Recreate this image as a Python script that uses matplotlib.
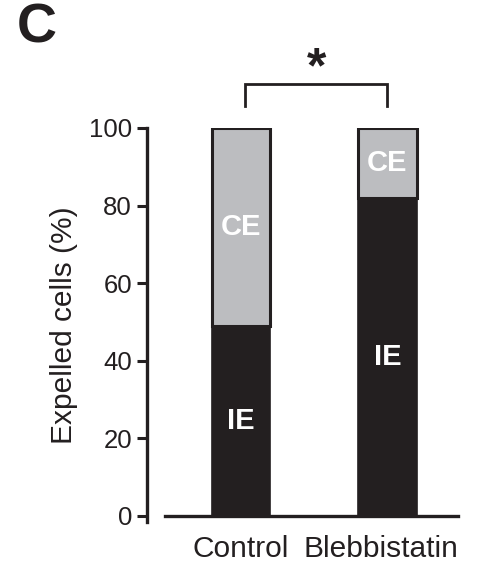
import matplotlib
matplotlib.use("Agg")
import matplotlib.pyplot as plt

plt.rcParams['font.family'] = ['Liberation Sans', 'DejaVu Sans']

# Data: percentage of expelled cells by expulsion type
categories = ["Control", "Blebbistatin"]
ie_values = [49, 82]          # IE share (%)
ce_values = [51, 18]          # CE share (%)
yticks = [0, 20, 40, 60, 80, 100]

dark = "#231f20"
grey = "#bcbdc0"

fig = plt.figure(figsize=(4.8, 5.67), dpi=100)
ax = fig.add_axes([0.3067, 0.079, 0.647, 0.6953])

x = list(range(len(categories)))
width = 0.4
ax.bar(x, ie_values, width=width, color=dark, edgecolor=dark, linewidth=1.2, zorder=2)
ax.bar(x, ce_values, width=width, bottom=ie_values, color=grey, edgecolor=dark,
       linewidth=2.2, zorder=2)

for xi, ie, ce in zip(x, ie_values, ce_values):
    ax.text(xi, ie / 2, "IE", color="white", fontsize=21, fontweight="bold",
            ha="center", va="center", zorder=3)
    ax.text(xi, ie + ce / 2, "CE", color="white", fontsize=21, fontweight="bold",
            ha="center", va="center", zorder=3)

ax.set_xlim(-0.64, 1.48)
ax.set_ylim(-1.6, 100)
ax.set_yticks(yticks)
ax.tick_params(axis="y", labelsize=18.5, length=7, width=2.2, direction="out",
               pad=4, color=dark, labelcolor=dark)
ax.set_xticks([])

# Category labels under the bars (the long one sits slightly left of its bar)
label_shift = [0, -4.5]   # points
for xi, name, dx in zip(x, categories, label_shift):
    ax.annotate(name, xy=(xi, 0), xycoords=("data", "axes fraction"),
                xytext=(dx, -9.5), textcoords="offset points",
                ha="center", va="top", fontsize=21.5, color=dark,
                annotation_clip=False)

for s in ["top", "right"]:
    ax.spines[s].set_visible(False)
ax.spines["left"].set_linewidth(2.4)
ax.spines["left"].set_color(dark)
ax.spines["left"].set_bounds(-1.6, 100)
ax.spines["bottom"].set_linewidth(2.4)
ax.spines["bottom"].set_color(dark)
ax.spines["bottom"].set_position(("data", 0))
ax.spines["bottom"].set_bounds(-0.52, 1.48)

ax.set_ylabel("Expelled cells (%)", fontsize=21.5, color=dark, labelpad=8)

# Significance bracket
bx0, bx1 = 0.03, 1.0
ax.plot([bx0, bx0, bx1, bx1], [105.7, 111.3, 111.3, 105.7], color=dark,
        linewidth=2.0, clip_on=False, solid_joinstyle="miter")
ax.text((bx0 + bx1) / 2, 115, "*", fontsize=36, fontweight="bold", color=dark,
        ha="center", va="center", clip_on=False)

fig.text(0.035, 0.949, "C", fontsize=40, fontweight="bold", color=dark,
         ha="left", va="center")

fig.savefig("out.png", dpi=100)
